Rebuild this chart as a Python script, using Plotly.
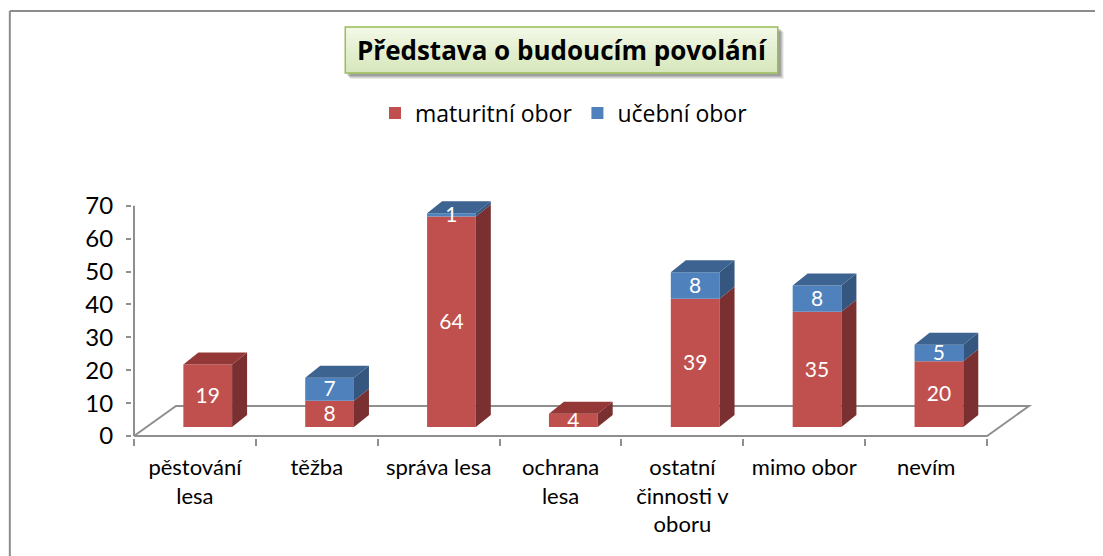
import plotly.graph_objects as go

# ---------------- data ----------------
categories = ["pěstování<br>lesa", "těžba", "správa lesa", "ochrana<br>lesa",
              "ostatní<br>činnosti v<br>oboru", "mimo obor", "nevím"]
maturitni = [19, 8, 64, 4, 39, 35, 20]
ucebni = [0, 7, 1, 0, 8, 8, 5]
y_ticks = [0, 10, 20, 30, 40, 50, 60, 70]
series_names = ["maturitní obor", "učební obor"]
chart_title = "Představa o budoucím povolání"

# ---------------- style / projection constants ----------------
FONT = "Lato"
FONT2 = "Open Sans"
RED, RED_SIDE, RED_TOP = "#C0504D", "#7A3030", "#933836"
BLUE, BLUE_SIDE, BLUE_TOP = "#4F81BD", "#35577F", "#3D6390"
AXIS_GRAY = "#8F8F8F"

OFF = 8                      # page body margin of the html page
PX_PER_CAT = 122.0
PX_PER_UNIT = 3.29
FRONT_DX = 0.105             # bar front plane shift (category units)
BASE = 9 / PX_PER_UNIT       # bar front plane shift (value units)
HALF = 0.2                   # half bar width
SDX = 15 / PX_PER_CAT        # bar depth (x)
SDY = 12 / PX_PER_UNIT       # bar depth (y)
FDX = 42 / PX_PER_CAT        # floor depth (x)
FDY = 30 / PX_PER_UNIT       # floor depth (y)
LABEL_DY = -0.6              # small downward nudge of value labels (value units)

W, H = 1103 - OFF, 556 - OFF
# target screen pixel geometry
AX_PX = 133.5                # screen x of category -0.5
L_PX, R_PX = 131.5, 1034.5
T_PX, B_PX = 190, 438
Y0_PX = 436
xr0 = -0.5 - (AX_PX - L_PX) / PX_PER_CAT
xr1 = xr0 + (R_PX - L_PX) / PX_PER_CAT
yr0 = -(B_PX - Y0_PX) / PX_PER_UNIT
yr1 = (Y0_PX - T_PX) / PX_PER_UNIT


def px_x(px):
    return (px - L_PX) / (R_PX - L_PX)


def px_y(py):
    return (B_PX - py) / (B_PX - T_PX)


n = len(categories)
idx = list(range(n))
xc = [i + FRONT_DX for i in idx]

fig = go.Figure()

# front faces as bars
fig.add_trace(go.Bar(
    x=xc, y=maturitni, base=[BASE] * n, width=0.4, name=series_names[0],
    marker=dict(color=RED, line=dict(width=0)), hoverinfo="skip"))
fig.add_trace(go.Bar(
    x=xc, y=ucebni, base=[BASE + m for m in maturitni], width=0.4,
    name=series_names[1],
    marker=dict(color=BLUE, line=dict(width=0)), hoverinfo="skip"))


def side_and_top(lows, highs, tops):
    sx, sy, tx, ty = [], [], [], []
    for i, (lo, hi, is_top) in enumerate(zip(lows, highs, tops)):
        if hi <= lo:
            continue
        x1 = i + FRONT_DX + HALF
        x0 = i + FRONT_DX - HALF
        y0 = BASE + lo
        y1 = BASE + hi
        sx += [x1, x1, x1 + SDX, x1 + SDX, x1, None]
        sy += [y0, y1, y1 + SDY, y0 + SDY, y0, None]
        if is_top:
            tx += [x0, x1, x1 + SDX, x0 + SDX, x0, None]
            ty += [y1, y1, y1 + SDY, y1 + SDY, y1, None]
    return sx, sy, tx, ty


red_lo = [0] * n
red_hi = maturitni
red_top = [u == 0 for u in ucebni]
blue_lo = maturitni
blue_hi = [m + u for m, u in zip(maturitni, ucebni)]
blue_top = [u > 0 for u in ucebni]

for lo, hi, tp, cs, ct in [(red_lo, red_hi, red_top, RED_SIDE, RED_TOP),
                           (blue_lo, blue_hi, blue_top, BLUE_SIDE, BLUE_TOP)]:
    sx, sy, tx, ty = side_and_top(lo, hi, tp)
    fig.add_trace(go.Scatter(x=sx, y=sy, mode="lines", fill="toself",
                             fillcolor=cs, line=dict(width=0, color=cs),
                             hoverinfo="skip", showlegend=False))
    if tx:
        fig.add_trace(go.Scatter(x=tx, y=ty, mode="lines", fill="toself",
                                 fillcolor=ct, line=dict(width=0, color=ct),
                                 hoverinfo="skip", showlegend=False))

# value labels
lx, ly, lt = [], [], []
for i in idx:
    if maturitni[i] > 0:
        lx.append(xc[i]); ly.append(BASE + maturitni[i] / 2 + LABEL_DY); lt.append(str(maturitni[i]))
    if ucebni[i] > 0:
        lx.append(xc[i]); ly.append(BASE + maturitni[i] + ucebni[i] / 2 + LABEL_DY); lt.append(str(ucebni[i]))
fig.add_trace(go.Scatter(x=lx, y=ly, text=lt, mode="text",
                         textfont=dict(family=FONT, size=21, color="white"),
                         hoverinfo="skip", showlegend=False, cliponaxis=False))

# dummy trace for boundary tick axis
fig.add_trace(go.Scatter(x=[0], y=[0], xaxis="x2", mode="markers",
                         marker=dict(opacity=0), hoverinfo="skip", showlegend=False))

shapes = []
# floor and value axis line (behind the bars)
floor_line = dict(color=AXIS_GRAY, width=2)
shapes.append(dict(type="line", xref="x", yref="y", x0=-0.5, y0=0, x1=-0.5, y1=y_ticks[-1],
                   line=floor_line, layer="below"))
shapes.append(dict(type="path", xref="x", yref="y",
                   path="M %f,%f L %f,%f L %f,%f L %f,%f L %f,%f" % (
                       -0.5, 0, -0.5 + FDX, FDY, n - 0.5 + FDX, FDY, n - 0.5, 0, -0.5, 0),
                   line=floor_line, layer="below"))

# outer frame (left and top edges visible)
FRAME_X = OFF + 1.2
shapes.append(dict(type="line", xref="paper", yref="paper",
                   x0=px_x(FRAME_X), y0=px_y(560), x1=px_x(FRAME_X), y1=px_y(11),
                   line=dict(color="#8C8C8C", width=2)))
shapes.append(dict(type="line", xref="paper", yref="paper",
                   x0=px_x(FRAME_X), y0=px_y(11), x1=px_x(1110), y1=px_y(11),
                   line=dict(color="#8C8C8C", width=2)))

# title box: shadow + gradient
bx0, bx1, by0, by1 = 345, 778, 27, 73
for k, op in [(6, 0.08), (5, 0.10), (4, 0.12), (3, 0.14)]:
    shapes.append(dict(type="rect", xref="paper", yref="paper",
                       x0=px_x(bx0 + k - 1), x1=px_x(bx1 + k),
                       y0=px_y(by0 + k - 1), y1=px_y(by1 + k),
                       fillcolor=f"rgba(0,0,0,{op})", line=dict(width=0)))
steps = 12
c_top = (242, 248, 230)
c_bot = (216, 232, 190)
for s in range(steps):
    f = s / (steps - 1)
    c = tuple(round(c_top[j] + (c_bot[j] - c_top[j]) * f) for j in range(3))
    ya = by0 + (by1 - by0) * s / steps
    yb = by0 + (by1 - by0) * (s + 1) / steps
    shapes.append(dict(type="rect", xref="paper", yref="paper",
                       x0=px_x(bx0), x1=px_x(bx1), y0=px_y(ya - 0.5), y1=px_y(yb + 0.5),
                       fillcolor="rgb(%d,%d,%d)" % c, line=dict(width=0)))
shapes.append(dict(type="rect", xref="paper", yref="paper",
                   x0=px_x(bx0), x1=px_x(bx1), y0=px_y(by0), y1=px_y(by1),
                   fillcolor="rgba(0,0,0,0)", line=dict(color="#9BBB59", width=1.5)))

annotations = [dict(xref="paper", yref="paper", x=px_x((bx0 + bx1) / 2),
                    y=px_y((by0 + by1) / 2), text="<b>%s</b>" % chart_title,
                    showarrow=False, xanchor="center", yanchor="middle",
                    font=dict(family=FONT2, size=26, color="black"))]

fig.update_layout(
    width=W, height=H,
    margin=dict(l=L_PX - OFF, r=W - (R_PX - OFF), t=T_PX - OFF, b=H - (B_PX - OFF), pad=0),
    paper_bgcolor="white", plot_bgcolor="white",
    barmode="overlay", hovermode=False,
    showlegend=True,
    legend=dict(orientation="h", xref="container", yref="container",
                x=(564 - OFF) / W, y=1 - (113 - OFF) / H,
                xanchor="center", yanchor="middle",
                font=dict(family=FONT2, size=23, color="black"),
                itemclick=False, itemdoubleclick=False, traceorder="normal"),
    xaxis=dict(range=[xr0, xr1], tickvals=idx, ticktext=categories,
               ticks="", showgrid=False, zeroline=False, showline=False,
               tickfont=dict(family=FONT, size=22, color="black"),
               ticklabelstandoff=14, fixedrange=True),
    xaxis2=dict(overlaying="x", matches="x", side="bottom", anchor="y",
                tickvals=[i - 0.5 for i in range(n + 1)], ticktext=[""] * (n + 1),
                ticks="outside", ticklen=7, tickwidth=2, tickcolor=AXIS_GRAY,
                showgrid=False, zeroline=False, showline=False, fixedrange=True),
    yaxis=dict(range=[yr0, yr1], tickvals=y_ticks, ticks="outside", ticklen=5,
               tickwidth=2, tickcolor=AXIS_GRAY, showgrid=False, zeroline=False,
               showline=False, tickfont=dict(family=FONT, size=24, color="black"),
               ticklabelstandoff=8, fixedrange=True),
    shapes=shapes, annotations=annotations,
)

fig.write_html("out.html", config={"displayModeBar": False, "staticPlot": True})
